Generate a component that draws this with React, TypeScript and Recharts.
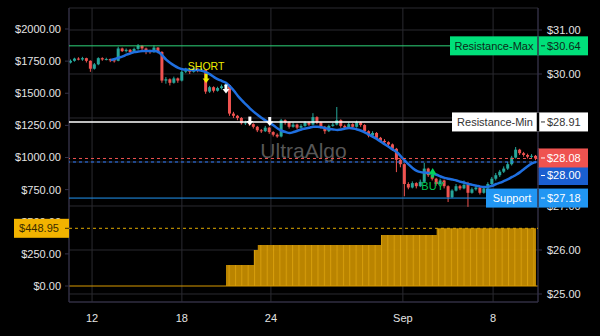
import React from 'react';
import {
  ComposedChart,
  Bar,
  Line,
  Area,
  XAxis,
  YAxis,
  CartesianGrid,
  ReferenceLine,
  ReferenceDot,
} from 'recharts';

// candles, right axis ($)
const firstOpen = 30.26;
const closes = [
  30.30, 30.35, 30.33, 30.36, 30.30, 30.12, 30.22, 30.36, 30.33, 30.34,
  30.31, 30.30, 30.58, 30.52, 30.55, 30.50, 30.57, 30.64, 30.58, 30.52,
  30.50, 30.60, 30.50, 29.85, 29.88, 29.80, 29.90, 29.85, 30.05, 30.10,
  30.05, 30.12, 30.08, 30.10, 29.60, 29.70, 29.62, 29.68, 29.72, 29.75,
  29.10, 29.05, 29.00, 28.88, 28.90, 28.86, 28.80, 28.72, 28.70, 28.78,
  28.68, 28.62, 28.58, 28.95, 28.90, 28.80, 28.85, 28.78, 28.82, 28.90,
  28.85, 29.02, 28.90, 28.80, 28.70, 28.82, 28.85, 28.95, 28.82, 28.78,
  28.86, 28.80, 28.90, 28.84, 28.70, 28.60, 28.66, 28.55, 28.48, 28.45,
  28.40, 28.30, 28.05, 27.95, 27.50, 27.42, 27.52, 27.45, 27.55, 27.85,
  27.70, 27.62, 27.50, 27.58, 27.45, 27.20, 27.35, 27.45, 27.40, 27.48,
  27.30, 27.38, 27.42, 27.30, 27.40, 27.50, 27.62, 27.70, 27.78, 27.85,
  27.95, 28.10, 28.28, 28.20, 28.16, 28.12, 28.14, 28.08,
];
const highs = [
  30.33, 30.37, 30.38, 30.39, 30.37, 30.31, 30.25, 30.38, 30.38, 30.37,
  30.35, 30.33, 30.62, 30.60, 30.58, 30.57, 30.60, 30.68, 30.66, 30.60,
  30.55, 30.65, 30.61, 30.52, 29.93, 29.90, 29.94, 29.92, 30.08, 30.14,
  30.12, 30.15, 30.14, 30.13, 30.11, 29.73, 29.72, 29.71, 29.76, 29.78,
  29.76, 29.14, 29.07, 29.02, 28.94, 28.92, 28.88, 28.82, 28.75, 28.82,
  28.80, 28.70, 28.65, 28.98, 28.97, 28.92, 28.90, 28.87, 28.86, 28.93,
  28.92, 29.11, 29.04, 28.92, 28.82, 28.85, 28.89, 29.25, 28.97, 28.85,
  28.90, 28.88, 28.94, 28.92, 28.86, 28.72, 28.70, 28.68, 28.57, 28.52,
  28.47, 28.42, 28.32, 28.08, 27.97, 27.54, 27.56, 27.54, 27.60, 27.98,
  27.87, 27.72, 27.64, 27.62, 27.60, 27.47, 27.38, 27.50, 27.48, 27.58,
  27.55, 27.42, 27.46, 27.44, 27.44, 27.54, 27.66, 27.75, 27.82, 27.90,
  28.00, 28.14, 28.34, 28.30, 28.23, 28.19, 28.18, 28.16,
];
const lows = [
  30.24, 30.28, 30.31, 30.30, 30.26, 30.05, 30.10, 30.20, 30.30, 30.31,
  30.27, 30.26, 30.29, 30.50, 30.49, 30.47, 30.48, 30.55, 30.54, 30.45,
  30.46, 30.48, 30.47, 29.80, 29.78, 29.74, 29.78, 29.80, 29.83, 30.02,
  30.00, 30.03, 30.04, 30.05, 29.55, 29.57, 29.58, 29.60, 29.65, 29.70,
  29.05, 29.00, 28.95, 28.85, 28.84, 28.82, 28.76, 28.68, 28.66, 28.68,
  28.64, 28.58, 28.55, 28.56, 28.85, 28.76, 28.78, 28.74, 28.76, 28.80,
  28.82, 28.83, 28.86, 28.76, 28.64, 28.68, 28.80, 28.83, 28.78, 28.74,
  28.76, 28.77, 28.78, 28.80, 28.66, 28.56, 28.57, 28.52, 28.44, 28.41,
  28.35, 28.25, 27.77, 27.88, 27.22, 27.38, 27.40, 27.40, 27.43, 27.52,
  27.66, 27.58, 27.46, 27.48, 27.40, 27.09, 27.18, 27.33, 27.36, 27.38,
  26.98, 27.28, 27.35, 27.26, 27.28, 27.38, 27.48, 27.58, 27.66, 27.75,
  27.82, 27.92, 28.08, 28.16, 28.12, 28.08, 28.09, 28.04,
];
// moving average (starts at candle 10)
const maValues = [
  null, null, null, null, null, null, null, null, null, null,
  30.32, 30.34, 30.37, 30.40, 30.44, 30.47, 30.50, 30.51, 30.52, 30.52,
  30.52, 30.52, 30.50, 30.42, 30.32, 30.25, 30.19, 30.14, 30.11, 30.10,
  30.09, 30.09, 30.09, 30.07, 30.04, 29.99, 29.93, 29.88, 29.84, 29.80,
  29.72, 29.62, 29.50, 29.40, 29.31, 29.22, 29.14, 29.07, 29.00, 28.94,
  28.89, 28.83, 28.76, 28.71, 28.68, 28.66, 28.68, 28.71, 28.74, 28.76,
  28.78, 28.80, 28.80, 28.79, 28.77, 28.75, 28.74, 28.73, 28.74, 28.76,
  28.77, 28.76, 28.74, 28.71, 28.67, 28.62, 28.57, 28.52, 28.46, 28.40,
  28.34, 28.28, 28.22, 28.13, 28.03, 27.94, 27.86, 27.80, 27.77, 27.76,
  27.75, 27.74, 27.71, 27.67, 27.64, 27.62, 27.60, 27.58, 27.55, 27.53,
  27.50, 27.48, 27.46, 27.44, 27.43, 27.44, 27.46, 27.50, 27.53, 27.57,
  27.61, 27.66, 27.71, 27.77, 27.84, 27.91, 27.97, 28.00,
];
// stepped profit area, left axis ($)
const goldStart = [0, 39, 46, 47, 78, 92];
const goldLevel = [0, 163, 280, 319, 397, 448.95];

const dayTickIdx = [5.3, 27.9, 50.3, 83.5, 106.2];
const dayTickLabels = ['12', '18', '24', 'Sep', '8'];
const leftTicks = [0, 250, 500, 750, 1000, 1250, 1500, 1750, 2000];
const rightTicks = [25, 26, 27, 28, 29, 30, 31];

const resistanceMax = 30.64;
const resistanceMin = 28.91;
const lastPrice = 28.08;
const maLast = 28.0;
const support = 27.18;
const profitLevel = 448.95;

const shortIdx = 34;
const shortPrice = 29.9;
const exitIdx = [39, 45, 50];
const exitPrice = [29.66, 28.93, 28.92];
const buyIdx = 91;
const buyPrice = 27.76;

const data = closes.map((c, i) => {
  let gold = 0;
  goldStart.forEach((s, k) => {
    if (i >= s) gold = goldLevel[k];
  });
  return {
    i,
    open: i === 0 ? firstOpen : closes[i - 1],
    close: c,
    high: highs[i],
    low: lows[i],
    ma: maValues[i],
    gold,
  };
});

const axisColor = '#34314a';
const gridColor = '#2a2a30';
const tickStyle = { fill: '#e4e4e4', fontSize: 11 };
const money = (v: number) => `$${v.toFixed(2)}`;
const chartMargin = { top: 8, right: 0, bottom: 0, left: 0 };
const leftDomain: [number, number] = [-124.5, 2163.4];
const rightDomain: [number, number] = [24.818, 31.5];

const Candle = (props: any) => {
  const { x, y, width, height, payload } = props;
  if (!payload) return null;
  const { open, close, high, low } = payload;
  const color = close >= open ? '#26a69a' : '#ef5350';
  const k = height / (high - low);
  const top = y + (high - Math.max(open, close)) * k;
  const h = Math.max(1, Math.abs(open - close) * k);
  const cx = x + width / 2;
  return (
    <g>
      <line x1={cx} x2={cx} y1={y} y2={y + height} stroke={color} strokeWidth={1} />
      <rect x={x} y={top} width={width} height={h} fill={color} />
    </g>
  );
};

function RightTag({ viewBox, name, value, bg, fg, nameWidth = 0, shiftY = 0, gap = false }: any) {
  const right = viewBox.x + viewBox.width;
  const cy = viewBox.y + shiftY;
  return (
    <g>
      <rect x={right - nameWidth} y={cy - 9.5} width={nameWidth + 50} height={19} fill={bg} />
      <line
        x1={right}
        x2={right}
        y1={cy - 9.5}
        y2={cy + 9.5}
        stroke={gap ? '#000' : axisColor}
        strokeWidth={gap ? 2.5 : 1.5}
      />
      {name && (
        <text x={right - nameWidth / 2} y={cy} dy="0.36em" textAnchor="middle" fill={fg} fontSize={11}>
          {name}
        </text>
      )}
      <line x1={right + 3} x2={right + 7} y1={cy} y2={cy} stroke={fg} />
      <text x={right + 9} y={cy} dy="0.36em" fill={fg} fontSize={11}>
        {value}
      </text>
    </g>
  );
}

function LeftTag({ viewBox, value }: any) {
  const left = viewBox.x;
  const cy = viewBox.y;
  return (
    <g>
      <rect x={left - 55} y={cy - 9.5} width={55} height={19} fill="#f2b300" />
      <text x={left - 30} y={cy} dy="0.36em" textAnchor="middle" fill="#3b2c00" fontSize={11}>
        {value}
      </text>
      <line x1={left - 4} x2={left} y1={cy} y2={cy} stroke="#3b2c00" />
    </g>
  );
}

const DownArrow = ({ cx, cy, color }: any) => (
  <g>
    <rect x={cx - 1.5} y={cy - 4.5} width={3} height={5} fill={color} />
    <polygon points={`${cx - 3.5},${cy} ${cx + 3.5},${cy} ${cx},${cy + 4.5}`} fill={color} />
  </g>
);

const ShortMark = (p: any) => (
  <g>
    <text x={p.cx} y={p.cy - 8.5} textAnchor="middle" fill="#eeee00" fontSize={10.5}>
      SHORT
    </text>
    <DownArrow cx={p.cx} cy={p.cy} color="#eeee00" />
  </g>
);

const ExitMark = (p: any) => <DownArrow cx={p.cx} cy={p.cy} color="#ffffff" />;

const BuyMark = (p: any) => (
  <g>
    <polygon points={`${p.cx - 4},${p.cy + 2} ${p.cx + 4},${p.cy + 2} ${p.cx},${p.cy - 4.5}`} fill="#00d45a" />
    <rect x={p.cx - 1.5} y={p.cy + 2} width={3} height={3} fill="#00d45a" />
    <text x={p.cx} y={p.cy + 17} textAnchor="middle" fill="#00c853" fontSize={11}>
      BUY
    </text>
  </g>
);

// same layout as the main chart, axes without labels, so the tags sit on top
function Overlay() {
  return (
    <ComposedChart
      width={600}
      height={336}
      data={data}
      margin={chartMargin}
      style={{ position: 'absolute', left: 0, top: 0 }}
    >
      <XAxis type="number" dataKey="i" domain={[-0.5, 117.5]} ticks={dayTickIdx} tick={false} tickLine={false} axisLine={false} height={34} />
      <YAxis yAxisId="left" orientation="left" width={69} domain={leftDomain} allowDataOverflow tick={false} tickLine={false} axisLine={false} />
      <YAxis yAxisId="right" orientation="right" width={62} domain={rightDomain} allowDataOverflow tick={false} tickLine={false} axisLine={false} />
      <ReferenceLine
        yAxisId="right"
        y={resistanceMax}
        stroke="#2ed47a"
        label={(p: any) => (
          <RightTag viewBox={p.viewBox} name="Resistance-Max" value={money(resistanceMax)} bg="#00e07a" fg="#0c2a18" nameWidth={88} />
        )}
      />
      <ReferenceLine
        yAxisId="right"
        y={resistanceMin}
        stroke="#ffffff"
        strokeWidth={1.5}
        label={(p: any) => (
          <RightTag viewBox={p.viewBox} name="Resistance-Min" value={money(resistanceMin)} bg="#ffffff" fg="#333333" nameWidth={86} gap />
        )}
      />
      <ReferenceLine
        yAxisId="right"
        y={support}
        stroke="#2196f3"
        label={(p: any) => (
          <RightTag viewBox={p.viewBox} name="Support" value={money(support)} bg="#2196f3" fg="#ffffff" nameWidth={52} />
        )}
      />
      <ReferenceLine
        yAxisId="right"
        y={maLast}
        stroke="#2979ff"
        strokeDasharray="3 3"
        label={(p: any) => (
          <RightTag viewBox={p.viewBox} value={money(maLast)} bg="#1a5fd0" fg="#ffffff" shiftY={13.5} />
        )}
      />
      <ReferenceLine
        yAxisId="right"
        y={lastPrice}
        stroke="#ef5350"
        strokeDasharray="3 3"
        label={(p: any) => (
          <RightTag viewBox={p.viewBox} value={money(lastPrice)} bg="#ef5350" fg="#ffffff" shiftY={-0.5} />
        )}
      />
      <ReferenceLine
        yAxisId="left"
        y={profitLevel}
        stroke="#e0a800"
        strokeDasharray="3 3"
        label={(p: any) => <LeftTag viewBox={p.viewBox} value={money(profitLevel)} />}
      />
      <ReferenceDot yAxisId="right" x={shortIdx} y={shortPrice} shape={ShortMark} />
      {exitIdx.map((x, k) => (
        <ReferenceDot key={x} yAxisId="right" x={x} y={exitPrice[k]} shape={ExitMark} />
      ))}
      <ReferenceDot yAxisId="right" x={buyIdx} y={buyPrice} shape={BuyMark} />
    </ComposedChart>
  );
}

export default function App() {
  return (
    <div
      style={{
        position: 'fixed',
        left: 0,
        top: 0,
        width: 600,
        height: 336,
        background: '#000',
        fontFamily: '"Liberation Sans", Arial, sans-serif',
      }}
    >
      <div
        style={{
          position: 'absolute',
          left: 69,
          top: 8,
          width: 469,
          height: 294,
          display: 'flex',
          alignItems: 'center',
          justifyContent: 'center',
          paddingBottom: 8,
          boxSizing: 'border-box',
          color: '#575757',
          fontSize: 21,
        }}
      >
        UltraAlgo
      </div>
      <ComposedChart
        width={600}
        height={336}
        data={data}
        margin={chartMargin}
        style={{ position: 'absolute', left: 0, top: 0 }}
      >
        <defs>
          <pattern id="goldStripes" x="0" y="0" width="6.35" height="8" patternUnits="userSpaceOnUse">
            <rect width="6.35" height="8" fill="#c48b00" />
            <rect width="1" height="8" fill="#e2a60c" />
          </pattern>
        </defs>
        <CartesianGrid stroke={gridColor} yAxisId="right" />
        <XAxis
          type="number"
          dataKey="i"
          domain={[-0.5, 117.5]}
          ticks={dayTickIdx}
          interval={0}
          tickFormatter={(v: number) => dayTickLabels[dayTickIdx.indexOf(v)] ?? ''}
          tick={tickStyle}
          tickLine={false}
          tickMargin={6}
          axisLine={{ stroke: axisColor }}
          height={34}
        />
        <YAxis
          yAxisId="left"
          orientation="left"
          width={69}
          domain={leftDomain}
          ticks={leftTicks}
          interval={0}
          allowDataOverflow
          tickFormatter={money}
          tick={tickStyle}
          tickSize={4}
          tickMargin={4}
          tickLine={{ stroke: axisColor }}
          axisLine={{ stroke: axisColor }}
        />
        <YAxis
          yAxisId="right"
          orientation="right"
          width={62}
          domain={rightDomain}
          ticks={rightTicks}
          interval={0}
          allowDataOverflow
          tickFormatter={money}
          tick={tickStyle}
          tickSize={4}
          tickMargin={5}
          tickLine={{ stroke: axisColor }}
          axisLine={{ stroke: axisColor }}
        />
        <Area
          yAxisId="left"
          type="stepAfter"
          dataKey="gold"
          baseValue={0}
          fill="url(#goldStripes)"
          fillOpacity={0.95}
          stroke="none"
          isAnimationActive={false}
        />
        <ReferenceLine yAxisId="left" y={0} stroke="#d99a00" strokeWidth={1} />
        <Bar
          yAxisId="right"
          dataKey={(d: any) => [d.low, d.high]}
          shape={Candle}
          barSize={3}
          isAnimationActive={false}
        />
        <Line
          yAxisId="right"
          type="monotone"
          dataKey="ma"
          stroke="#1f6fe0"
          strokeWidth={2.5}
          dot={false}
          isAnimationActive={false}
        />
      </ComposedChart>
      <Overlay />
    </div>
  );
}
